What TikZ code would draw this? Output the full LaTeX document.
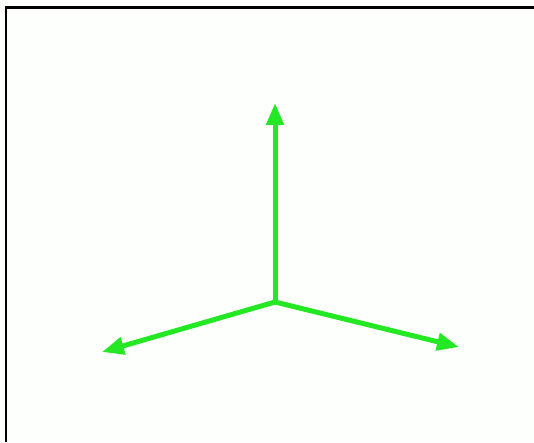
\documentclass[tikz,border=0pt]{standalone}
\usetikzlibrary{arrows.meta}
\definecolor{axisgreen}{RGB}{35,232,35}
\definecolor{bgwhite}{RGB}{252,255,252}
\tikzset{axisarrow/.style={draw=axisgreen, fill=axisgreen, line width=5pt, -{Triangle[length=22pt,width=17pt]}}}
\begin{document}
\begin{tikzpicture}[x=1pt,y=1pt]
\useasboundingbox (0,0) rectangle (534,442);
\fill[bgwhite] (0,0) rectangle (534,442);
\draw[line width=2.5pt] (6,0) -- (6,434.5) -- (534,434.5);
\coordinate (o) at (275,140);
\coordinate (up) at (275,339);
\coordinate (left) at (102,90);
\coordinate (right) at (459,95);
\draw[axisarrow] (o) -- (up);
\draw[axisarrow] (o) -- (left);
\draw[axisarrow] (o) -- (right);
\end{tikzpicture}
\end{document}
